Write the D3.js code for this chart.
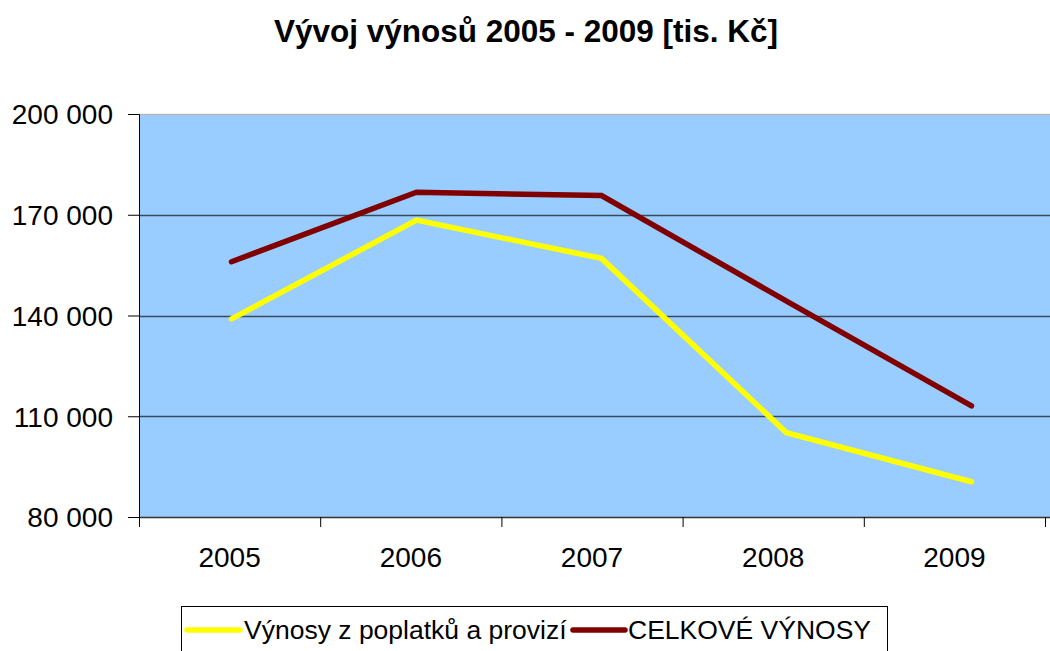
<!DOCTYPE html>
<html><head><meta charset="utf-8">
<script src="https://cdn.jsdelivr.net/npm/d3@7"></script>
<style>body{margin:0;background:#fff}svg{display:block}</style>
</head><body>
<script>
const title = "Vývoj výnosů 2005 - 2009 [tis. Kč]";
const categories = ["2005","2006","2007","2008","2009"];
const seriesNames = ["Výnosy z poplatků a provizí","CELKOVÉ VÝNOSY"];
const feesValues = [139000,168400,157000,105100,90500];
const totalValues = [156000,176700,175700,144300,113100];
const yTicks = [80000,110000,140000,170000,200000];
const seriesColors = ["#FFFF00","#800000"];

const W=1050,H=651;
const svg=d3.select("body").append("svg").attr("width",W).attr("height",H);
const L=139,T=114,B=517,R=1064;
const font="Liberation Sans, Arial, sans-serif";

const y=d3.scaleLinear().domain([80000,200000]).range([B,T]);
const xPts=d3.scalePoint().domain(categories).range([L,R]).padding(0.5);
const xAxisScale=d3.scaleBand().domain(categories).range([L,1045]);

svg.append("rect").attr("x",L).attr("y",T).attr("width",R-L).attr("height",B-T).attr("fill","#99CCFF");

// gridlines
svg.append("g").selectAll("line").data(yTicks.filter(d=>d>80000&&d<200000)).join("line")
  .attr("x1",L).attr("x2",R).attr("y1",d=>Math.round(y(d))+0.5).attr("y2",d=>Math.round(y(d))+0.5)
  .attr("stroke","#3a4a5c").attr("stroke-width",1.3);
svg.append("line").attr("x1",L).attr("x2",R).attr("y1",T+0.5).attr("y2",T+0.5).attr("stroke","#b8b8b8").attr("stroke-width",1.5);

// y axis
const yAx=svg.append("g").attr("transform",`translate(${L},0)`)
  .call(d3.axisLeft(y).tickValues(yTicks).tickSize(11).tickPadding(15)
    .tickFormat(d=>d3.format(",")(d).replace(/,/g," ")));
yAx.select(".domain").attr("stroke","#000");
yAx.selectAll("line").attr("stroke","#000");
yAx.selectAll("text").attr("font-family",font).attr("font-size",28).attr("fill","#000").attr("dy","0.35em");

// x axis
const xAx=svg.append("g").attr("transform",`translate(0,${B})`)
  .call(d3.axisBottom(xAxisScale).tickSize(0).tickPadding(30));
xAx.select(".domain").remove();
xAx.selectAll("text").attr("font-family",font).attr("font-size",28).attr("fill","#000");
svg.append("line").attr("x1",L).attr("x2",R).attr("y1",B+0.5).attr("y2",B+0.5).attr("stroke","#333").attr("stroke-width",1.5);
svg.append("g").selectAll("line").data(categories.concat(["end"])).join("line")
  .attr("x1",(d,i)=>i<categories.length?xAxisScale(d)+0.5:1045.5)
  .attr("x2",(d,i)=>i<categories.length?xAxisScale(d)+0.5:1045.5)
  .attr("y1",B).attr("y2",B+10).attr("stroke","#000");

// lines
const line=d3.line().x((d,i)=>xPts(categories[i])).y(d=>y(d));
[feesValues,totalValues].forEach((vals,k)=>{
  svg.append("path").datum(vals).attr("d",line).attr("fill","none")
    .attr("stroke",seriesColors[k]).attr("stroke-width",5.5)
    .attr("stroke-linecap","round").attr("stroke-linejoin","miter");
});

// title
svg.append("text").attr("x",526).attr("y",42).attr("text-anchor","middle")
  .attr("font-family",font).attr("font-weight","bold").attr("font-size",31.5).text(title);

// legend
const lg=svg.append("g");
lg.append("rect").attr("x",181.5).attr("y",606.5).attr("width",706).attr("height",60)
  .attr("fill","#fff").attr("stroke","#000").attr("stroke-width",1);
const legendX=[[187,240,244],[573,625,628]];
seriesNames.forEach((n,k)=>{
  lg.append("line").attr("x1",legendX[k][0]).attr("x2",legendX[k][1]).attr("y1",630).attr("y2",630)
    .attr("stroke",seriesColors[k]).attr("stroke-width",5.5).attr("stroke-linecap","round");
  lg.append("text").attr("x",legendX[k][2]).attr("y",639).attr("font-family",font)
    .attr("font-size",26.5).attr("fill","#000").text(n);
});
</script>
</body></html>
